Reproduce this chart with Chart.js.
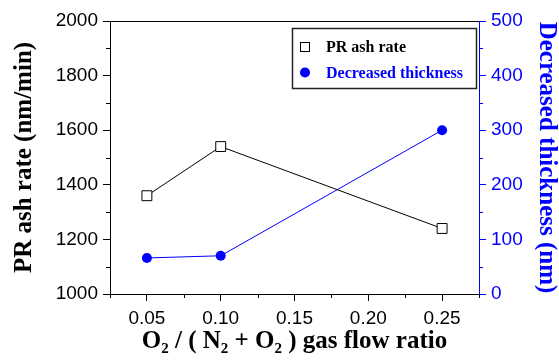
<!DOCTYPE html>
<html>
<head>
<meta charset="utf-8">
<script src="https://cdn.jsdelivr.net/npm/chart.js@4"></script>
<style>
  html, body { margin: 0; padding: 0; background: #fff; }
  #wrap { width: 559px; height: 362px; }
</style>
</head>
<body>
<div id="wrap"><canvas id="myChart" width="559" height="362"></canvas></div>
<script>
// data
const ratios = [0.05, 0.10, 0.25];
const ashRate = [1360, 1540, 1240];
const thickness = [66, 70, 300];

const xTicks = [0.05, 0.10, 0.15, 0.20, 0.25];
const xMinor = [0.025, 0.075, 0.125, 0.175, 0.225, 0.275];
const leftTicks = [1000, 1200, 1400, 1600, 1800, 2000];
const leftMinor = [1100, 1300, 1500, 1700, 1900];
const rightTicks = [0, 100, 200, 300, 400, 500];
const rightMinor = [50, 150, 250, 350, 450];

const BLUE = "#0000ff";
const tickFont = { family: "'Liberation Sans', Arial, sans-serif", size: 19 };
const titleFont = { family: "'Liberation Serif', 'Times New Roman', serif", size: 25, weight: "bold", lineHeight: 1 };

function setTicks(list) {
    return function (scale) {
        scale.ticks = list.map(v => ({ value: v }));
    };
}

// minor ticks, top border and legend
const extras = {
    id: "extras",
    afterDraw(chart) {
        const ctx = chart.ctx;
        const a = chart.chartArea;
        const x = chart.scales.x, yl = chart.scales.y, yr = chart.scales.y1;
        ctx.save();
        ctx.lineWidth = 1;

        ctx.strokeStyle = "#000";
        ctx.beginPath();
        ctx.moveTo(a.left, a.top + 0.5);
        ctx.lineTo(a.right, a.top + 0.5);
        xMinor.forEach(v => {
            const p = Math.round(x.getPixelForValue(v)) + 0.5;
            ctx.moveTo(p, a.bottom);
            ctx.lineTo(p, a.bottom + 4);
        });
        leftMinor.forEach(v => {
            const p = Math.round(yl.getPixelForValue(v)) + 0.5;
            ctx.moveTo(a.left, p);
            ctx.lineTo(a.left - 4, p);
        });
        ctx.stroke();

        ctx.strokeStyle = BLUE;
        ctx.beginPath();
        rightMinor.forEach(v => {
            const p = Math.round(yr.getPixelForValue(v)) + 0.5;
            ctx.moveTo(a.right, p);
            ctx.lineTo(a.right + 4, p);
        });
        ctx.stroke();

        // legend box
        const bx = 292.5, by = 28.5, bw = 184, bh = 60;
        ctx.strokeStyle = "#222";
        ctx.lineWidth = 1.5;
        ctx.strokeRect(bx, by, bw, bh);

        ctx.lineWidth = 1;
        ctx.strokeStyle = "#000";
        ctx.strokeRect(300.5, 42.5, 9, 9);
        ctx.fillStyle = BLUE;
        ctx.beginPath();
        ctx.arc(305, 72.5, 5, 0, Math.PI * 2);
        ctx.fill();

        ctx.font = "bold 16px 'Liberation Serif', 'Times New Roman', serif";
        ctx.textBaseline = "alphabetic";
        ctx.fillStyle = "#000";
        ctx.fillText("PR ash rate", 326, 52);
        ctx.fillStyle = BLUE;
        ctx.fillText("Decreased thickness", 326, 78);
        ctx.restore();
    }
};

const ctx = document.getElementById("myChart").getContext("2d");
new Chart(ctx, {
    type: "line",
    data: {
        datasets: [{
            label: "PR ash rate",
            data: ratios.map((r, i) => ({ x: r, y: ashRate[i] })),
            yAxisID: "y",
            borderColor: "#000",
            borderWidth: 1,
            backgroundColor: "#fff",
            pointStyle: "rect",
            pointRadius: 7,
            pointBorderWidth: 1,
            pointBorderColor: "#000",
            pointBackgroundColor: "#fff",
            tension: 0
        }, {
            label: "Decreased thickness",
            data: ratios.map((r, i) => ({ x: r, y: thickness[i] })),
            yAxisID: "y1",
            borderColor: BLUE,
            borderWidth: 1,
            backgroundColor: BLUE,
            pointStyle: "circle",
            pointRadius: 5,
            pointBorderWidth: 0,
            pointBackgroundColor: BLUE,
            tension: 0
        }]
    },
    options: {
        responsive: false,
        animation: false,
        layout: { padding: { top: 21, left: 0, right: 0, bottom: 0 } },
        plugins: { legend: { display: false }, tooltip: { enabled: false } },
        scales: {
            x: {
                type: "linear",
                min: 0.025,
                max: 0.275,
                afterBuildTicks: setTicks(xTicks),
                afterFit(scale) { scale.height = 68; },
                border: { color: "#000", width: 1 },
                grid: { drawOnChartArea: false, tickLength: 7, color: "#000" },
                ticks: {
                    color: "#000",
                    font: tickFont,
                    padding: 6,
                    maxRotation: 0,
                    callback: v => v.toFixed(2)
                },
                title: {
                    display: true,
                    text: "O\u2082 / ( N\u2082 + O\u2082 ) gas flow ratio",
                    color: "#000",
                    font: titleFont,
                    padding: { top: 0, bottom: 8 }
                }
            },
            y: {
                position: "left",
                min: 1000,
                max: 2000,
                afterBuildTicks: setTicks(leftTicks),
                afterFit(scale) { scale.width = 110; },
                border: { color: "#000", width: 1 },
                grid: { drawOnChartArea: false, tickLength: 7, color: "#000" },
                ticks: { color: "#000", font: tickFont, padding: 5, callback: v => String(v) },
                title: {
                    display: true,
                    text: "PR ash rate (nm/min)",
                    color: "#000",
                    font: titleFont,
                    padding: { top: 12, bottom: 0 }
                }
            },
            y1: {
                position: "right",
                min: 0,
                max: 500,
                afterBuildTicks: setTicks(rightTicks),
                afterFit(scale) { scale.width = 80; },
                border: { color: BLUE, width: 1 },
                grid: { drawOnChartArea: false, tickLength: 7, color: BLUE },
                ticks: { color: BLUE, font: tickFont, padding: 5, callback: v => String(v) },
                title: {
                    display: true,
                    text: "Decreased thickness (nm)",
                    color: BLUE,
                    font: titleFont,
                    padding: { top: 0, bottom: 0 }
                }
            }
        }
    },
    plugins: [extras]
});
</script>
</body>
</html>
